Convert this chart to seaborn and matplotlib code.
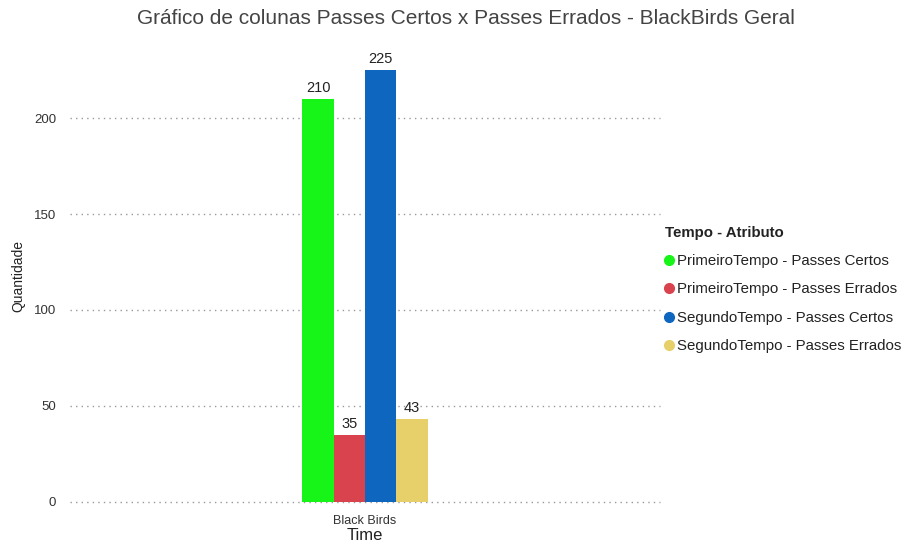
import matplotlib
matplotlib.use("Agg")
import matplotlib.pyplot as plt
from matplotlib.lines import Line2D
import seaborn as sns
import pandas as pd

times = ["Black Birds"] * 4
atributos = [
    "PrimeiroTempo - Passes Certos",
    "PrimeiroTempo - Passes Errados",
    "SegundoTempo - Passes Certos",
    "SegundoTempo - Passes Errados",
]
valores = [210, 35, 225, 43]
cores = ["#17F417", "#D8434E", "#0F66BF", "#E7D06A"]
yticks = [0, 50, 100, 150, 200]

df = pd.DataFrame({"Time": times, "Atributo": atributos, "Quantidade": valores})

sns.set_theme(style="white")
plt.rcParams["font.family"] = ["Liberation Sans", "DejaVu Sans"]

fig = plt.figure(figsize=(9.13, 5.44), dpi=100)
ax = fig.add_axes([70 / 913, (544 - 502) / 544, 590 / 913, (235 * 1.92) / 544])

sns.barplot(data=df, x="Time", y="Quantidade", hue="Atributo", palette=cores,
            hue_order=atributos, width=0.212, gap=0, dodge=True, ax=ax,
            legend=False, saturation=1, edgecolor="none", linewidth=0)
ax.set_xlim(-0.5, 0.5)
ax.set_ylim(0, 235)
ax.set_yticks(yticks)
ax.yaxis.grid(True, color="#999999", linestyle=(0, (1, 3)), linewidth=1)
ax.xaxis.grid(False)
ax.set_axisbelow(True)
for gl in ax.yaxis.get_gridlines():
    gl.set_clip_on(False)
for s in ax.spines.values():
    s.set_visible(False)
ax.tick_params(axis="y", length=0, labelsize=9.5, colors="#333333", pad=10)
ax.tick_params(axis="x", length=0, labelsize=9, colors="#333333", pad=9)
ax.set_ylabel("Quantidade", fontsize=10, color="#222222", labelpad=6)
ax.set_xlabel("Time", fontsize=12, color="#222222", labelpad=1)

for c in ax.containers:
    ax.bar_label(c, fontsize=10.5, color="#222222", padding=3)

fig.text(466 / 913, 1 - 18 / 544, "Gráfico de colunas Passes Certos x Passes Errados - BlackBirds Geral",
         ha="center", va="center", fontsize=15, color="#444444")

handles = [Line2D([0], [0], marker="o", linestyle="", markersize=7,
                  markerfacecolor=c, markeredgecolor=c) for c in cores]
leg = fig.legend(handles, atributos, loc="upper left",
                 bbox_to_anchor=(659 / 913, 1 - 220 / 544), frameon=False,
                 title="Tempo - Atributo", fontsize=10.8, title_fontsize=10.8,
                 handlelength=0.55, handletextpad=0.25, labelspacing=0.95,
                 alignment="left", borderaxespad=0)
leg.get_title().set_fontweight("bold")
leg.get_title().set_color("#222222")
for t in leg.get_texts():
    t.set_color("#222222")

fig.savefig("out.png", dpi=100)
